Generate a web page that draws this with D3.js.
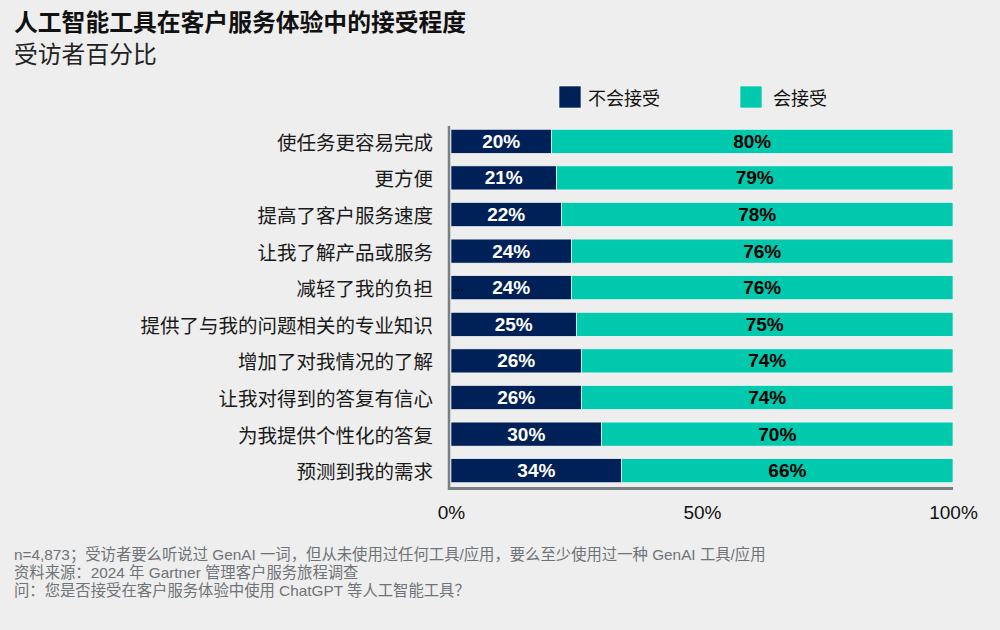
<!DOCTYPE html>
<html><head><meta charset="utf-8">
<script src="https://cdn.jsdelivr.net/npm/d3@7"></script>
<style>
html,body{margin:0;padding:0;background:#eeeeee;}
text{font-family:"Liberation Sans","Noto Sans CJK SC",sans-serif;}
</style></head>
<body>
<svg id="chart" width="1000" height="630"></svg>
<script>
const categories = ["使任务更容易完成","更方便","提高了客户服务速度","让我了解产品或服务","减轻了我的负担","提供了与我的问题相关的专业知识","增加了对我情况的了解","让我对得到的答复有信心","为我提供个性化的答复","预测到我的需求"];
const wouldNot = [20,21,22,24,24,25,26,26,30,34];
const would = [80,79,78,76,76,75,74,74,70,66];
const seriesNames = ["不会接受","会接受"];
const xTicks = [0,50,100];
const title = "人工智能工具在客户服务体验中的接受程度";
const subtitle = "受访者百分比";
const notes = ["n=4,873；受访者要么听说过 GenAI 一词，但从未使用过任何工具/应用，要么至少使用过一种 GenAI 工具/应用","资料来源：2024 年 Gartner 管理客户服务旅程调查","问：您是否接受在客户服务体验中使用 ChatGPT 等人工智能工具？"];

const colors = ["#002157","#00c9ad"];
const svg = d3.select("#chart");
svg.append("rect").attr("width",1000).attr("height",630).attr("fill","#eeeeee");

svg.append("text").attr("x",14).attr("y",31).attr("font-size",23.8).attr("font-weight","bold")
  .attr("fill","#111").style("font-family","'Noto Sans CJK SC',sans-serif").text(title);
svg.append("text").attr("x",14).attr("y",63).attr("font-size",23.8)
  .attr("fill","#222").style("font-family","'Noto Sans CJK SC',sans-serif").text(subtitle);

// legend
const legX = [559,740], legT=[588,773];
seriesNames.forEach((n,i)=>{
  svg.append("rect").attr("x",legX[i]).attr("y",86).attr("width",22).attr("height",22)
    .attr("fill",colors[i]).attr("stroke","#ffffff").attr("stroke-width",0.6);
  svg.append("text").attr("x",legT[i]).attr("y",97).attr("dominant-baseline","central")
    .attr("font-size",18).attr("fill","#111").style("font-family","'Noto Sans CJK SC',sans-serif").text(n);
});

const x = d3.scaleLinear().domain([0,100]).range([451,953]);
const y = d3.scaleBand().domain(categories).range([123,489]).paddingInner(0.344).paddingOuter(0.172);

const rows = categories.map((c,i)=>({c, a:wouldNot[i], b:would[i]}));

// category labels
svg.append("g").selectAll("text").data(rows).join("text")
  .attr("x",433).attr("y",d=>y(d.c)+y.bandwidth()/2).attr("text-anchor","end")
  .attr("dominant-baseline","central").attr("font-size",19.5).attr("fill","#1a1a1a")
  .style("font-family","'Noto Sans CJK SC',sans-serif").text(d=>d.c);

// bars
const g = svg.append("g");
g.selectAll("rect.a").data(rows).join("rect").attr("class","a")
  .attr("x",x(0)).attr("y",d=>y(d.c)).attr("width",d=>x(d.a)-x(0)).attr("height",y.bandwidth())
  .attr("fill",colors[0]).attr("stroke","#ffffff").attr("stroke-width",0.6);
g.selectAll("rect.b").data(rows).join("rect").attr("class","b")
  .attr("x",d=>x(d.a)).attr("y",d=>y(d.c)).attr("width",d=>x(d.a+d.b)-x(d.a)).attr("height",y.bandwidth())
  .attr("fill",colors[1]).attr("stroke","#ffffff").attr("stroke-width",0.6);

g.selectAll("text.a").data(rows).join("text").attr("class","a")
  .attr("x",d=>(x(0)+x(d.a))/2).attr("y",d=>y(d.c)+y.bandwidth()/2)
  .attr("text-anchor","middle").attr("dominant-baseline","central")
  .attr("font-size",19).attr("font-weight","bold").attr("fill","#ffffff").text(d=>d.a+"%");
g.selectAll("text.b").data(rows).join("text").attr("class","b")
  .attr("x",d=>(x(d.a)+x(d.a+d.b))/2).attr("y",d=>y(d.c)+y.bandwidth()/2)
  .attr("text-anchor","middle").attr("dominant-baseline","central")
  .attr("font-size",19).attr("font-weight","bold").attr("fill","#000000").text(d=>d.b+"%");

// stray ellipsis seen in reference
svg.append("text").attr("x",453).attr("y",y(categories[4])+y.bandwidth()/2+3)
  .attr("font-size",13).attr("fill","#000").text("...");

// axis lines
svg.append("line").attr("x1",449).attr("x2",449).attr("y1",126).attr("y2",490)
  .attr("stroke","#7a7f82").attr("stroke-width",2.5);
svg.append("line").attr("x1",448).attr("x2",953).attr("y1",488.5).attr("y2",488.5)
  .attr("stroke","#7a7f82").attr("stroke-width",3);

// x axis
const ax = svg.append("g").attr("transform","translate(0,500)")
  .call(d3.axisBottom(x).tickValues(xTicks).tickFormat(d=>d+"%").tickSize(0).tickPadding(6));
ax.select(".domain").remove();
ax.selectAll("text").attr("font-size",19).attr("fill","#111").style("font-family","'Liberation Sans',sans-serif");

// notes
svg.append("g").selectAll("text").data(notes).join("text")
  .attr("x",14).attr("y",(d,i)=>560+i*18).attr("font-size",15.35).attr("fill","#6f7377")
  .style("font-family","'Liberation Sans','Noto Sans CJK SC',sans-serif").text(d=>d);
</script>
</body></html>
